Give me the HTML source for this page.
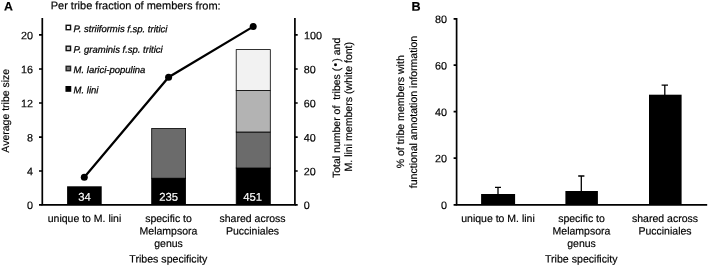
<!DOCTYPE html>
<html><head><meta charset="utf-8">
<style>
html,body{margin:0;padding:0;background:#fff;}
svg{display:block;}
text{font-family:"Liberation Sans",Arial,sans-serif;text-rendering:geometricPrecision;stroke:#000;stroke-width:.18px;}
.w{fill:#fff;stroke:#fff;}
</style></head><body>
<svg width="708" height="267" viewBox="0 0 708 267">
<rect width="708" height="267" fill="#fff"/>
<text transform="translate(3.9,10.5) rotate(0.03)" font-size="12.3" font-weight="bold">A</text>
<text transform="translate(50.7,9.3) rotate(0.03)" font-size="11">Per tribe fraction of members from:</text>
<rect x="67.1" y="186.3" width="34.6" height="18.2" fill="#000"/>
<g stroke="#000" stroke-width="0.8">
<rect x="151.7" y="128.5" width="33.9" height="49.8" fill="#6b6b6b"/>
<rect x="151.7" y="178.3" width="33.9" height="26.2" fill="#000"/>
<rect x="236.2" y="168" width="34.1" height="36.5" fill="#000"/>
<rect x="236.2" y="132" width="34.1" height="36" fill="#6b6b6b"/>
<rect x="236.2" y="90.5" width="34.1" height="41.5" fill="#b3b3b3"/>
<rect x="236.2" y="49.6" width="34.1" height="40.9" fill="#f2f2f2"/>
</g>
<g stroke="#000" stroke-width="1.7" fill="none">
<path d="M42.3 18V204.8H294.9V18"/>
<path d="M39 34.8H42.3M39 69H42.3M39 103H42.3M39 137.2H42.3M39 171H42.3M39 204.8H42.3"/>
<path d="M294.9 34.8H297.7M294.9 69H297.7M294.9 103H297.7M294.9 137.2H297.7M294.9 171H297.7M294.9 204.8H297.7"/>
</g>
<text transform="translate(33,39.3) rotate(0.03)" font-size="10.8" text-anchor="end">20</text>
<text transform="translate(33,73.3) rotate(0.03)" font-size="10.8" text-anchor="end">16</text>
<text transform="translate(33,107.3) rotate(0.03)" font-size="10.8" text-anchor="end">12</text>
<text transform="translate(33,141.5) rotate(0.03)" font-size="10.8" text-anchor="end">8</text>
<text transform="translate(33,175.3) rotate(0.03)" font-size="10.8" text-anchor="end">4</text>
<text transform="translate(33,208.9) rotate(0.03)" font-size="10.8" text-anchor="end">0</text>
<text transform="translate(304,39.3) rotate(0.03)" font-size="10.8">100</text>
<text transform="translate(303.7,73.3) rotate(0.03)" font-size="10.8">80</text>
<text transform="translate(303.7,107.3) rotate(0.03)" font-size="10.8">60</text>
<text transform="translate(303.7,141.5) rotate(0.03)" font-size="10.8">40</text>
<text transform="translate(303.7,175.3) rotate(0.03)" font-size="10.8">20</text>
<text transform="translate(303.7,208.9) rotate(0.03)" font-size="10.8">0</text>
<polyline points="84.3,177.3 168.6,77.2 253.2,26.6" fill="none" stroke="#000" stroke-width="2.2"/>
<circle cx="84.3" cy="177.3" r="3.5"/><circle cx="168.6" cy="77.2" r="3.5"/><circle cx="253.2" cy="26.6" r="3.5"/>
<rect x="66.15" y="25.3" width="4.4" height="4.4" fill="#fff" stroke="#111" stroke-width="1.4"/>
<text transform="translate(73.6,32.1) rotate(0.03)" font-size="9.5" font-style="italic" style="stroke-width:.25px">P. striiformis f.sp. tritici</text>
<rect x="66.15" y="46.2" width="4.4" height="4.4" fill="#cfcfcf" stroke="#111" stroke-width="1.4"/>
<text transform="translate(73.6,52.7) rotate(0.03)" font-size="9.5" font-style="italic" style="stroke-width:.25px">P. graminis f.sp. tritici</text>
<rect x="66.15" y="66.3" width="4.4" height="4.4" fill="#7a7a7a" stroke="#222" stroke-width="1.4"/>
<text transform="translate(73.6,72.9) rotate(0.03)" font-size="9.5" font-style="italic" style="stroke-width:.25px">M. larici-populina</text>
<rect x="66.15" y="86.7" width="4.4" height="4.4" fill="#000" stroke="#000" stroke-width="1.4"/>
<text transform="translate(73.6,93.2) rotate(0.03)" font-size="9.5" font-style="italic" style="stroke-width:.25px">M. lini</text>
<text transform="translate(84.5,200.7) rotate(0.03)" font-size="11.3" text-anchor="middle" class="w">34</text>
<text transform="translate(168.7,200.7) rotate(0.03)" font-size="11.3" text-anchor="middle" class="w">235</text>
<text transform="translate(252.7,200.7) rotate(0.03)" font-size="11.3" text-anchor="middle" class="w">451</text>
<text transform="translate(84.5,222.0) rotate(0.03)" font-size="10.5" text-anchor="middle">unique to M. lini</text>
<text transform="translate(168.5,222.0) rotate(0.03)" font-size="10.5" text-anchor="middle">specific to</text>
<text transform="translate(168.5,234.5) rotate(0.03)" font-size="10.5" text-anchor="middle">Melampsora</text>
<text transform="translate(168.5,247.0) rotate(0.03)" font-size="10.5" text-anchor="middle">genus</text>
<text transform="translate(252.5,222.0) rotate(0.03)" font-size="10.5" text-anchor="middle">shared across</text>
<text transform="translate(252.5,234.5) rotate(0.03)" font-size="10.5" text-anchor="middle">Pucciniales</text>
<text transform="translate(168.3,262.6) rotate(0.03)" font-size="10.6" text-anchor="middle">Tribes specificity</text>
<text transform="translate(8.6,110.75) rotate(-90)" font-size="10.5" text-anchor="middle">Average tribe size</text>
<text transform="translate(340.2,107.9) rotate(-90)" font-size="10.5" text-anchor="middle" xml:space="preserve">Total number of  tribes (<tspan dx="1.2" dy="-1.2">•</tspan><tspan dx="1.2" dy="1.2">)</tspan> and</text>
<text transform="translate(352,106.7) rotate(-90)" font-size="10.55" text-anchor="middle">M. lini members (white font)</text>
<text transform="translate(411.5,10.7) rotate(0.03)" font-size="12.6" font-weight="bold">B</text>
<rect x="481.1" y="194" width="34" height="10.5"/>
<rect x="565.4" y="191" width="32.5" height="13.5"/>
<rect x="649" y="94.7" width="32.6" height="109.8"/>
<g stroke="#000" stroke-width="1.3" fill="none">
<path d="M498 194V187.3M495 187.3H501"/>
<path d="M581.3 191V176M578.2 176H584.4"/>
<path d="M664.8 95V85.2M661.6 85.2H668"/>
</g>
<g stroke="#000" stroke-width="1.7" fill="none">
<path d="M456.6 18.1V204.8H707.2"/>
<path d="M453.6 18.9H456.6M453.6 65.2H456.6M453.6 111.7H456.6M453.6 158.1H456.6M453.6 204.8H456.6"/>
</g>
<text transform="translate(447,23.099999999999998) rotate(0.03)" font-size="10.8" text-anchor="end">80</text>
<text transform="translate(447,69.4) rotate(0.03)" font-size="10.8" text-anchor="end">60</text>
<text transform="translate(447,115.9) rotate(0.03)" font-size="10.8" text-anchor="end">40</text>
<text transform="translate(447,162.29999999999998) rotate(0.03)" font-size="10.8" text-anchor="end">20</text>
<text transform="translate(447,209.0) rotate(0.03)" font-size="10.8" text-anchor="end">0</text>
<text transform="translate(498,222.0) rotate(0.03)" font-size="10.5" text-anchor="middle">unique to M. lini</text>
<text transform="translate(581.5,222.0) rotate(0.03)" font-size="10.5" text-anchor="middle">specific to</text>
<text transform="translate(581.5,234.5) rotate(0.03)" font-size="10.5" text-anchor="middle">Melampsora</text>
<text transform="translate(581.5,247.0) rotate(0.03)" font-size="10.5" text-anchor="middle">genus</text>
<text transform="translate(665,222.0) rotate(0.03)" font-size="10.5" text-anchor="middle">shared across</text>
<text transform="translate(665,234.5) rotate(0.03)" font-size="10.5" text-anchor="middle">Pucciniales</text>
<text transform="translate(581.3,262.5) rotate(0.03)" font-size="10.6" text-anchor="middle">Tribe specificity</text>
<text transform="translate(404.4,111.8) rotate(-90)" font-size="10.55" text-anchor="middle">% of tribe members with</text>
<text transform="translate(416.9,112) rotate(-90)" font-size="10.55" text-anchor="middle">functional annotation information</text>
</svg>
</body></html>
